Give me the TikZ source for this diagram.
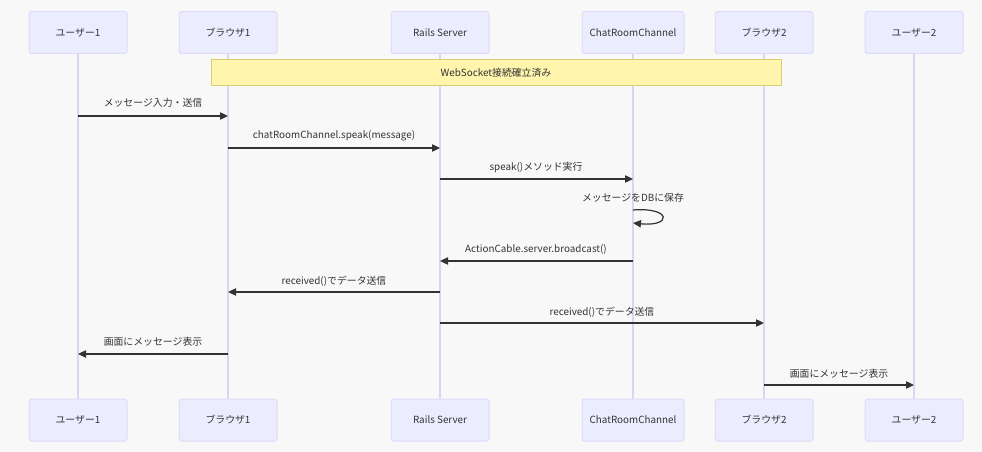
\documentclass[tikz,border=0pt]{standalone}
\usepackage{fontspec}
\setmainfont{Noto Sans CJK JP}
\usetikzlibrary{arrows.meta}
\definecolor{bg}{HTML}{F8F8F8}
\definecolor{actfill}{HTML}{ECECFF}
\definecolor{actdraw}{HTML}{DEDAF8}
\definecolor{life}{HTML}{DDD4F5}
\definecolor{notefill}{HTML}{FFF5AD}
\definecolor{notedraw}{HTML}{D9CF72}
\definecolor{txt}{HTML}{333333}
\tikzset{
  actor/.style={draw=actdraw, fill=actfill, line width=0.75pt, rounded corners=2pt, minimum width=98*0.75pt, minimum height=42*0.75pt, inner sep=0pt, font=\fontsize{7.4pt}{9pt}\selectfont, text=txt},
  lifeline/.style={draw=life, line width=0.8pt},
  msg/.style={draw=txt, line width=0.9pt, -{Triangle[length=6pt,width=5.5pt]}},
  lbl/.style={font=\fontsize{7.4pt}{9pt}\selectfont, text=txt, inner sep=0pt},
  notebox/.style={draw=notedraw, fill=notefill, line width=0.75pt, inner sep=0pt, font=\fontsize{7.4pt}{9pt}\selectfont, text=txt}
}
\begin{document}
\begin{tikzpicture}[x=0.75pt, y=-0.75pt]
\fill[bg] (0,0) rectangle (982,452);
\useasboundingbox (0,0) rectangle (982,452);
% lifelines coordinates
\foreach \n/\x in {u1/78, b1/228, rs/440, cc/633, b2/764, u2/914}{
  \coordinate (\n t) at (\x,53);
  \coordinate (\n b) at (\x,399);
}
\foreach \n in {u1,b1,rs,cc,b2,u2}{ \draw[lifeline] (\n t) -- (\n b); }
% actors top
\node[actor] (u1top) at (78,32.5) {ユーザー1};
\node[actor] (b1top) at (228,32.5) {ブラウザ1};
\node[actor] (rstop) at (440,32.5) {Rails Server};
\node[actor, minimum width=102*0.75pt] (cctop) at (633,32.5) {ChatRoomChannel};
\node[actor] (b2top) at (764,32.5) {ブラウザ2};
\node[actor] (u2top) at (914,32.5) {ユーザー2};
% actors bottom
\node[actor] (u1bot) at (78,420) {ユーザー1};
\node[actor] (b1bot) at (228,420) {ブラウザ1};
\node[actor] (rsbot) at (440,420) {Rails Server};
\node[actor, minimum width=102*0.75pt] (ccbot) at (633,420) {ChatRoomChannel};
\node[actor] (b2bot) at (764,420) {ブラウザ2};
\node[actor] (u2bot) at (914,420) {ユーザー2};
% note
\node[notebox, minimum width=570*0.75pt, minimum height=26*0.75pt] (note) at (496,73) {WebSocket接続確立済み};
% message coordinates
\coordinate (m1a) at (78,116);  \coordinate (m1b) at (228,116);
\coordinate (m2a) at (228,148); \coordinate (m2b) at (440,148);
\coordinate (m3a) at (440,179); \coordinate (m3b) at (633,179);
\coordinate (m4a) at (633,210); \coordinate (m4b) at (633,223);
\coordinate (m5a) at (633,261); \coordinate (m5b) at (440,261);
\coordinate (m6a) at (440,292); \coordinate (m6b) at (228,292);
\coordinate (m7a) at (440,323); \coordinate (m7b) at (764,323);
\coordinate (m8a) at (228,354); \coordinate (m8b) at (78,354);
\coordinate (m9a) at (764,385); \coordinate (m9b) at (914,385);
\draw[msg] (m1a) -- (m1b);
\draw[msg] (m2a) -- (m2b);
\draw[msg] (m3a) -- (m3b);
\draw[msg] (m4a) .. controls (672,207) and (672,227) .. (m4b);
\draw[msg] (m5a) -- (m5b);
\draw[msg] (m6a) -- (m6b);
\draw[msg] (m7a) -- (m7b);
\draw[msg] (m8a) -- (m8b);
\draw[msg] (m9a) -- (m9b);
% labels
\node[lbl] (l1) at (153,103) {メッセージ入力・送信};
\node[lbl] (l2) at (334,136) {chatRoomChannel.speak(message)};
\node[lbl] (l3) at (536,167) {speak()メソッド実行};
\node[lbl] (l4) at (633,198) {メッセージをDBに保存};
\node[lbl] (l5) at (536,249) {ActionCable.server.broadcast()};
\node[lbl] (l6) at (334,281) {received()でデータ送信};
\node[lbl] (l7) at (602,312) {received()でデータ送信};
\node[lbl] (l8) at (153,342) {画面にメッセージ表示};
\node[lbl] (l9) at (839,374) {画面にメッセージ表示};
\end{tikzpicture}
\end{document}
